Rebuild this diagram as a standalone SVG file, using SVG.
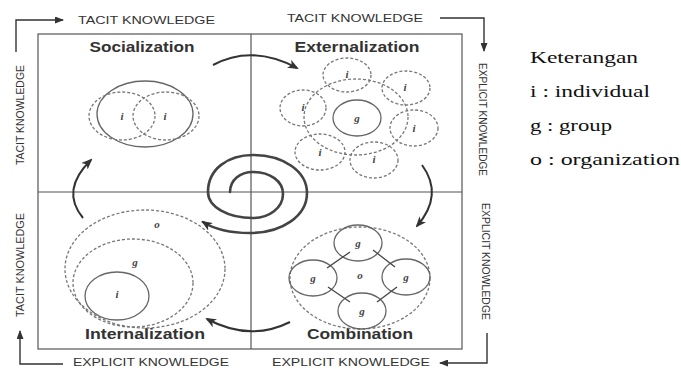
<svg xmlns="http://www.w3.org/2000/svg" width="681" height="369" viewBox="0 0 681 369">
<defs>
<style>
.frame{fill:none;stroke:#555;stroke-width:1.2}
.dash{fill:none;stroke:#777;stroke-width:1.3;stroke-dasharray:3 2}
.solid{fill:none;stroke:#666;stroke-width:1.3}
.thin{stroke:#444;stroke-width:1.3}
.arc{fill:none;stroke:#333;stroke-width:2}
.spiral{fill:none;stroke:#444;stroke-width:2.6;stroke-linecap:round}
.edge{fill:none;stroke:#333;stroke-width:1.4}
.title{font-family:"Liberation Sans",Arial,sans-serif;font-weight:bold;font-size:14px;fill:#333;text-anchor:middle}
.lab{font-family:"Liberation Serif","Times New Roman",serif;font-style:italic;font-weight:bold;font-size:11px;fill:#444;text-anchor:middle}
.axis{font-family:"Liberation Sans",Arial,sans-serif;font-size:10px;fill:#333}
.leg{font-family:"Liberation Serif","Times New Roman",serif;font-size:16px;fill:#111}
</style>
<marker id="ah" markerWidth="11" markerHeight="9" refX="9" refY="4.5" orient="auto" markerUnits="userSpaceOnUse">
<path d="M0,0 L11,4.5 L0,9 L3,4.5 z" fill="#333"/>
</marker>
<marker id="ahs" markerWidth="9" markerHeight="7" refX="8" refY="3.5" orient="auto" markerUnits="userSpaceOnUse">
<path d="M0,0 L9,3.5 L0,7 z" fill="#333"/>
</marker>
</defs>
<rect width="681" height="369" fill="#fff"/>

<g id="frame">
<rect class="frame" x="38" y="34" width="424" height="315"/>
<line class="frame" x1="251" y1="34" x2="251" y2="349"/>
<line class="frame" x1="38" y1="192" x2="462" y2="192"/>
</g>

<g id="axis-labels">
<text class="axis" x="78" y="24" textLength="137" lengthAdjust="spacingAndGlyphs">TACIT KNOWLEDGE</text>
<text class="axis" x="287" y="22" textLength="136" lengthAdjust="spacingAndGlyphs">TACIT KNOWLEDGE</text>
<text class="axis" x="73" y="366" textLength="156" lengthAdjust="spacingAndGlyphs">EXPLICIT KNOWLEDGE</text>
<text class="axis" x="272" y="366" textLength="158" lengthAdjust="spacingAndGlyphs">EXPLICIT KNOWLEDGE</text>
<text class="axis" transform="translate(24,165) rotate(-90)" x="0" y="0" textLength="100" lengthAdjust="spacingAndGlyphs" font-size="11">TACIT KNOWLEDGE</text>
<text class="axis" transform="translate(24,317) rotate(-90)" x="0" y="0" textLength="104" lengthAdjust="spacingAndGlyphs" font-size="11">TACIT KNOWLEDGE</text>
<text class="axis" transform="translate(479,63) rotate(90)" x="0" y="0" textLength="113" lengthAdjust="spacingAndGlyphs" font-size="11">EXPLICIT KNOWLEDGE</text>
<text class="axis" transform="translate(482,203) rotate(90)" x="0" y="0" textLength="117" lengthAdjust="spacingAndGlyphs" font-size="11">EXPLICIT KNOWLEDGE</text>
</g>

<g id="socialization">
<text class="title" x="142" y="52" textLength="105" lengthAdjust="spacingAndGlyphs">Socialization</text>
<ellipse class="solid" cx="145" cy="114" rx="48" ry="33"/>
<ellipse class="dash" cx="122" cy="116" rx="33" ry="24"/>
<ellipse class="dash" cx="166" cy="116" rx="33" ry="24"/>
<text class="lab" x="122" y="120">i</text>
<text class="lab" x="165" y="120">i</text>
</g>

<g id="externalization">
<text class="title" x="357" y="52" textLength="125" lengthAdjust="spacingAndGlyphs">Externalization</text>
<ellipse class="dash" cx="356" cy="117" rx="52" ry="38"/>
<ellipse class="solid" cx="357" cy="118" rx="24" ry="18"/>
<ellipse class="dash" cx="347" cy="75" rx="24" ry="17"/>
<ellipse class="dash" cx="406" cy="88" rx="24" ry="17"/>
<ellipse class="dash" cx="303" cy="108" rx="23" ry="18"/>
<ellipse class="dash" cx="414" cy="128" rx="24" ry="18"/>
<ellipse class="dash" cx="320" cy="152" rx="25" ry="18"/>
<ellipse class="dash" cx="374" cy="160" rx="24" ry="18"/>
<text class="lab" x="357" y="122">g</text>
<text class="lab" x="347" y="78">i</text>
<text class="lab" x="405" y="91">i</text>
<text class="lab" x="303" y="111">i</text>
<text class="lab" x="414" y="132">i</text>
<text class="lab" x="320" y="156">i</text>
<text class="lab" x="374" y="163">i</text>
</g>

<g id="combination">
<text class="title" x="360" y="339" textLength="106" lengthAdjust="spacingAndGlyphs">Combination</text>
<ellipse class="dash" cx="360" cy="278" rx="70" ry="51"/>
<ellipse class="solid" cx="358" cy="243" rx="24" ry="18"/>
<ellipse class="solid" cx="313" cy="278" rx="24" ry="18"/>
<ellipse class="solid" cx="406" cy="277" rx="24" ry="18"/>
<ellipse class="solid" cx="362" cy="311" rx="24" ry="18"/>
<line class="thin" x1="327" y1="268" x2="350" y2="252"/>
<line class="thin" x1="373" y1="250" x2="395" y2="267"/>
<line class="thin" x1="328" y1="287" x2="350" y2="302"/>
<line class="thin" x1="377" y1="302" x2="397" y2="287"/>
<text class="lab" x="358" y="247">g</text>
<text class="lab" x="313" y="282">g</text>
<text class="lab" x="406" y="281">g</text>
<text class="lab" x="362" y="315">g</text>
<text class="lab" x="360" y="279">o</text>
</g>

<g id="internalization">
<text class="title" x="145" y="339" textLength="120" lengthAdjust="spacingAndGlyphs">Internalization</text>
<ellipse class="dash" cx="145" cy="269" rx="80" ry="59"/>
<ellipse class="dash" cx="133" cy="283" rx="60" ry="44"/>
<ellipse class="solid" cx="117" cy="296" rx="32" ry="24"/>
<text class="lab" x="157" y="228">o</text>
<text class="lab" x="135" y="266">g</text>
<text class="lab" x="117" y="298">i</text>
</g>

<g id="legend">
<text class="leg" x="530" y="63" textLength="108" lengthAdjust="spacingAndGlyphs">Keterangan</text>
<text class="leg" x="530" y="97" textLength="120" lengthAdjust="spacingAndGlyphs">i : individual</text>
<text class="leg" x="530" y="131" textLength="82" lengthAdjust="spacingAndGlyphs">g : group</text>
<text class="leg" x="530" y="165" textLength="150" lengthAdjust="spacingAndGlyphs">o : organization</text>
</g>

<g id="connectors">
<path class="spiral" d="M230,192 C230,180 240,172 253,172 C270,172 283,181 283,194 C283,208 269,218 253,218 C228,218 208,207 208,192 C208,169 228,155 253,155 C283,155 307,171 307,193 C307,216 282,233 250,233 C230,233 214,229 203,222" marker-end="url(#ah)"/>
<path class="arc" d="M213,65 Q252,44 297,68" marker-end="url(#ah)"/>
<path class="arc" d="M422,165 Q444,195 417,226" marker-end="url(#ah)"/>
<path class="arc" d="M290,322 Q250,342 207,319" marker-end="url(#ah)"/>
<path class="arc" d="M83,218 Q60,190 91,160" marker-end="url(#ah)"/>
<polyline class="edge" points="16,52 16,20 63,20" marker-end="url(#ahs)"/>
<polyline class="edge" points="440,18 484,18 484,51" marker-end="url(#ahs)"/>
<polyline class="edge" points="487,333 487,363 440,363" marker-end="url(#ahs)"/>
<polyline class="edge" points="63,364 20,364 20,331" marker-end="url(#ahs)"/>
</g>
</svg>
